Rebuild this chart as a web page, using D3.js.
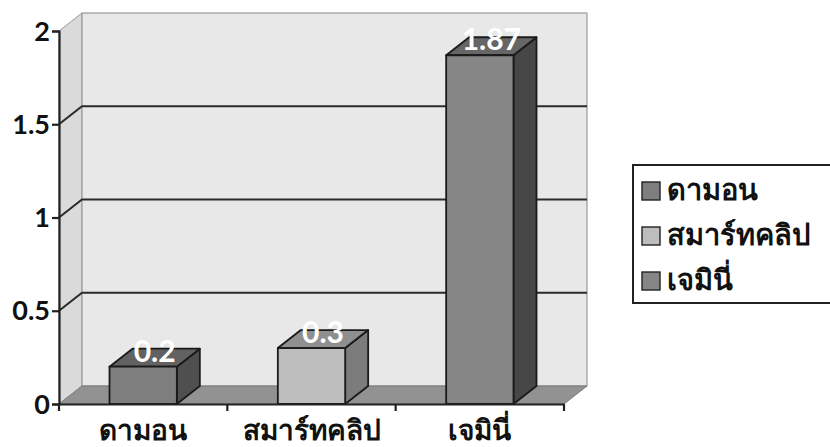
<!DOCTYPE html>
<html><head><meta charset="utf-8">
<script src="https://cdn.jsdelivr.net/npm/d3@7"></script>
<style>
html,body{margin:0;padding:0;background:#fff;}
svg{display:block;}
text{font-family:Lato,"Noto Sans","DejaVu Sans",sans-serif;font-weight:bold;}
</style></head>
<body>
<svg id="c" width="830" height="447"></svg>
<script>
const categories = ["ดามอน", "สมาร์ทคลิป", "เจมินี่"];
const values = [0.2, 0.3, 1.87];
const seriesNames = ["ดามอน", "สมาร์ทคลิป", "เจมินี่"];
const yTicks = [0, 0.5, 1, 1.5, 2];
const yTickLabels = ["0", "0.5", "1", "1.5", "2"];
const frontColors = ["#7e7e7e", "#bdbdbd", "#868686"];
const topColors = ["#626262", "#8f8f8f", "#666666"];
const sideColors = ["#4f4f4f", "#7c7c7c", "#474747"];

const svg = d3.select("#c");
const x0 = 59, x1 = 564, yBase = 404, yTop = 31;
const dx = 23, dy = -18;
const x = d3.scaleBand().domain(categories).range([x0, x1]).paddingInner(0).paddingOuter(0);
const y = d3.scaleLinear().domain([0, 2]).range([yBase, yTop]);

const pts = a => a.map(p => p.join(",")).join(" ");

// side wall
svg.append("polygon").attr("points", pts([[x0, y(2)], [x0 + dx, y(2) + dy], [x0 + dx, y(0) + dy], [x0, y(0)]]))
  .attr("fill", "#dadada").attr("stroke", "#9a9a9a").attr("stroke-width", 1);
// back wall
svg.append("rect").attr("x", x0 + dx).attr("y", y(2) + dy).attr("width", x1 - x0).attr("height", y(0) - y(2))
  .attr("fill", "#e8e8e8").attr("stroke", "#9a9a9a").attr("stroke-width", 1.2);
// floor
svg.append("polygon").attr("points", pts([[x0, y(0)], [x1, y(0)], [x1 + dx, y(0) + dy], [x0 + dx, y(0) + dy]]))
  .attr("fill", "#929292").attr("stroke", "#7a7a7a").attr("stroke-width", 1);

// gridlines
yTicks.filter(t => t > 0 && t < 2).forEach(t => {
  svg.append("polyline").attr("points", pts([[x0, y(t)], [x0 + dx, y(t) + dy], [x1 + dx, y(t) + dy]]))
    .attr("fill", "none").attr("stroke", "#2a2a2a").attr("stroke-width", 2);
});

// bars
const bw = x.bandwidth() * 0.4;
categories.forEach((c, i) => {
  const cx = x(c) + x.bandwidth() / 2;
  const l = cx - bw / 2, r = cx + bw / 2, t = y(values[i]), b = y(0);
  const g = svg.append("g").attr("stroke", "#1a1a1a").attr("stroke-width", 1.8).attr("stroke-linejoin", "round");
  g.append("polygon").attr("points", pts([[r, t], [r + dx, t + dy], [r + dx, b + dy], [r, b]])).attr("fill", sideColors[i]);
  g.append("polygon").attr("points", pts([[l, t], [l + dx, t + dy], [r + dx, t + dy], [r, t]])).attr("fill", topColors[i]);
  g.append("rect").attr("x", l).attr("y", t).attr("width", bw).attr("height", b - t).attr("fill", frontColors[i]);
  svg.append("text").attr("x", cx + dx / 2).attr("y", t + dy / 2 + 4)
    .attr("text-anchor", "middle").attr("font-size", 30).attr("fill", "#ffffff")
    .text(values[i]);
});

// y axis
const yAxis = d3.axisLeft(y).tickValues(yTicks).tickFormat((d, i) => yTickLabels[i]).tickSize(7).tickPadding(2);
const ga = svg.append("g").attr("transform", `translate(${x0},0)`).call(yAxis);
ga.select(".domain").attr("stroke", "#222").attr("stroke-width", 2.2);
ga.selectAll(".tick line").attr("stroke", "#222").attr("stroke-width", 2.2);
ga.selectAll(".tick text").attr("font-size", 27).attr("fill", "#111")
  .attr("font-family", "Lato, sans-serif").attr("font-weight", "900").attr("dy", "0.34em");

// x axis
const xAxis = d3.axisBottom(x).tickSize(0).tickPadding(0);
const gx = svg.append("g").attr("transform", `translate(0,${yBase})`).call(xAxis);
gx.select(".domain").attr("stroke", "#222").attr("stroke-width", 2.2);
gx.selectAll(".tick text").attr("font-size", 28).attr("fill", "#111").attr("font-weight", "bold")
  .attr("y", 36).attr("dy", "0");
const bounds = [x0].concat(categories.map(c => x(c) + x.bandwidth()));
gx.selectAll(".xt").data(bounds).enter().append("line").attr("class", "xt")
  .attr("x1", d => d).attr("x2", d => d).attr("y1", 0).attr("y2", 7)
  .attr("stroke", "#222").attr("stroke-width", 2.2);

// legend
const lg = svg.append("g");
lg.append("rect").attr("x", 633).attr("y", 165).attr("width", 220).attr("height", 138)
  .attr("fill", "#fff").attr("stroke", "#222").attr("stroke-width", 2);
seriesNames.forEach((s, i) => {
  const cy = 191 + i * 45;
  lg.append("rect").attr("x", 642).attr("y", cy - 9).attr("width", 18).attr("height", 18)
    .attr("fill", frontColors[i]).attr("stroke", "#222").attr("stroke-width", 1.4);
  lg.append("text").attr("x", 667).attr("y", cy + 9).attr("font-size", 29).attr("fill", "#111").text(s);
});
</script>
</body></html>
